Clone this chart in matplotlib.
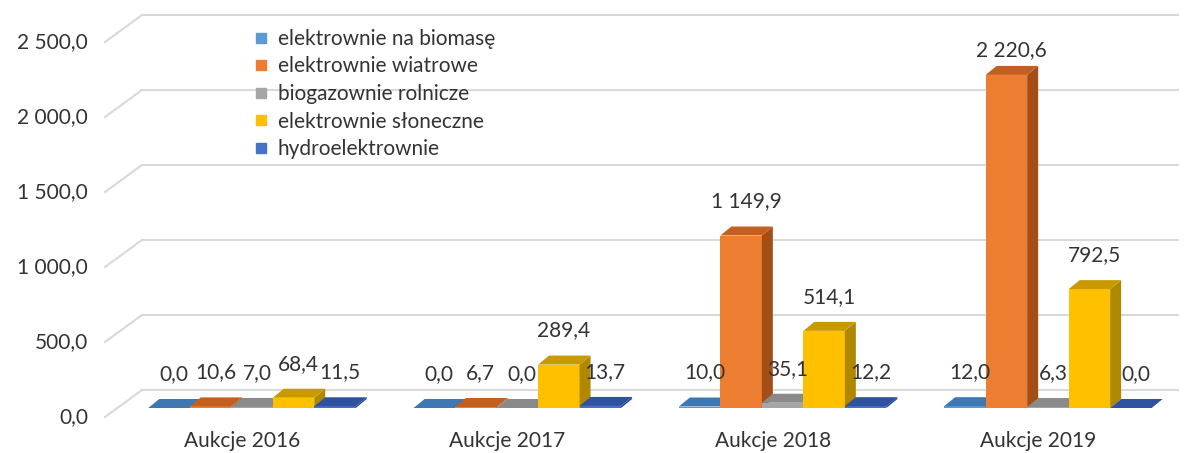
import numpy as np
import matplotlib
matplotlib.use("Agg")
import matplotlib.pyplot as plt
from matplotlib.patches import Polygon
from matplotlib.lines import Line2D

plt.rcParams['font.family'] = ['Lato', 'DejaVu Sans']

# data
groups = ["Aukcje 2016", "Aukcje 2017", "Aukcje 2018", "Aukcje 2019"]
series = ["elektrownie na biomasę", "elektrownie wiatrowe", "biogazownie rolnicze",
          "elektrownie słoneczne", "hydroelektrownie"]
biomasa = [0.0, 0.0, 10.0, 12.0]
wiatrowe = [10.6, 6.7, 1149.9, 2220.6]
biogaz = [7.0, 0.0, 35.1, 6.3]
sloneczne = [68.4, 289.4, 514.1, 792.5]
hydro = [11.5, 13.7, 12.2, 0.0]
values = [biomasa, wiatrowe, biogaz, sloneczne, hydro]
yticks = [0, 500, 1000, 1500, 2000, 2500]

# colours: front, top, side
front = ["#5B9BD5", "#ED7D31", "#A5A5A5", "#FFC000", "#4472C4"]
top = ["#3E78B2", "#C4601F", "#8A8A8A", "#C99A00", "#2E52A0"]
side = ["#356599", "#A34E17", "#777777", "#B08800", "#26458A"]
txt = "#333333"
fs = 15

W, H = 1192, 453
fig = plt.figure(figsize=(W / 100, H / 100), dpi=100)
ax = fig.add_axes([0, 0, 1, 1])

# pixel geometry helpers
px_x = 265.3        # px per group
px_y = 0.15         # px per value unit
x0_px = 252         # centre of first group
base_px = 408       # bar base (from top)
ax.set_xlim((0 - x0_px) / px_x, (W - x0_px) / px_x)
ax.set_ylim((base_px - H) / px_y, base_px / px_y)
ax.axis("off")


def ux(p):
    return p / px_x


def uy(p):
    return p / px_y


def xpx(p):
    return (p - x0_px) / px_x


bw = ux(41.5)
ddx, ddy = ux(11), uy(9)

def fmt(v):
    return f"{v:,.1f}".replace(",", " ").replace(".", ",")

# back wall gridlines and side wall diagonals
for t in yticks:
    yb = t + uy(18)
    yf = t - uy(9)
    ax.plot([xpx(105), xpx(142)], [yf, yb], color="#D9D9D9", lw=1.5, zorder=0)
    ax.plot([xpx(142), xpx(1178)], [yb, yb], color="#D9D9D9", lw=1.5, zorder=0)
    ax.text(xpx(88), yf, fmt(t), ha="right", va="center", fontsize=fs, color=txt)

# bars
for i in range(len(groups)):
    for j in range(len(series)):
        v = values[j][i]
        L = i + (j - 2.5) * bw
        R = L + bw
        ax.bar(L, v, width=bw, align="edge", color=front[j], lw=0, zorder=2)
        ax.add_patch(Polygon([(R, 0), (R + ddx, ddy), (R + ddx, v + ddy), (R, v)],
                             closed=True, fc=side[j], ec="none", zorder=2))
        ax.add_patch(Polygon([(L, v), (R, v), (R + ddx, v + ddy), (L + ddx, v + ddy)],
                             closed=True, fc=top[j], ec="none", zorder=2))

# data labels
for i in range(len(groups)):
    for j in range(len(series)):
        v = values[j][i]
        xc = i + (j - 2) * bw + ux(5)
        yl = min(v + uy(34), uy(base_px - 50))
        ax.text(xc, yl, fmt(v), ha="center", va="center", fontsize=fs,
                color=txt, zorder=5)

# category labels
for i, g in enumerate(groups):
    ax.text(i - ux(10), uy(base_px - 441), g, ha="center", va="center",
            fontsize=fs, color=txt)

handles = [Line2D([], [], marker="s", ls="none", color=c, markersize=7.5) for c in front]
ax.legend(handles, series, loc="upper left", bbox_to_anchor=(255 / W, 1 - 29 / H),
          frameon=False, fontsize=fs, handlelength=0.6, handletextpad=0.5,
          labelspacing=0.36, borderaxespad=0, borderpad=0, labelcolor=txt)

fig.savefig("out.png", dpi=100)
